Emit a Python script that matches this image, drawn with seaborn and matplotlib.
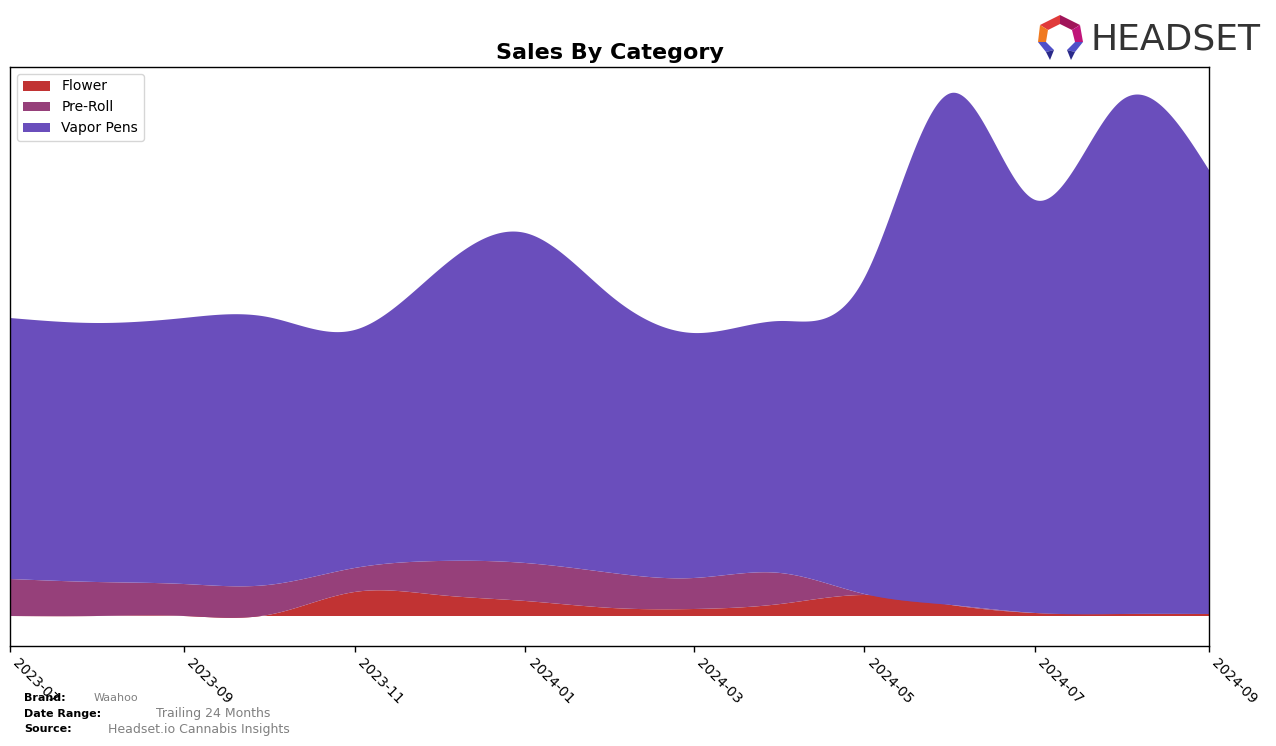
import numpy as np
import pandas as pd
import matplotlib
matplotlib.use("Agg")
import matplotlib.pyplot as plt
import matplotlib.dates as mdates
from matplotlib.patches import Polygon
import seaborn as sns

# ---- data (monthly, arbitrary units) ----
months = ["2023-07", "2023-08", "2023-09", "2023-10", "2023-11", "2023-12",
          "2024-01", "2024-02", "2024-03", "2024-04", "2024-05", "2024-06",
          "2024-07", "2024-08", "2024-09"]
categories = ["Flower", "Pre-Roll", "Vapor Pens"]
flower = [0, 0, 0, 1, 24, 21, 15, 8, 7, 12, 21, 11, 3, 2, 2]
pre_roll = [37, 34, 32, 30, 24, 34, 38, 35, 31, 31, 1, 0, 0, 0, 0]
vapor_pens = [261, 259, 266, 268, 238, 291, 330, 276, 245, 252, 316, 512, 413, 514, 444]
tick_labels = ["2023-07", "2023-09", "2023-11", "2024-01", "2024-03",
               "2024-05", "2024-07", "2024-09"]
colors = ["#C13333", "#96407A", "#6A4EBC"]


def natural_spline(x, y, xs):
    x = np.asarray(x, float); y = np.asarray(y, float)
    n = len(x); h = np.diff(x)
    A = np.zeros((n, n)); b = np.zeros(n)
    A[0, 0] = 1; A[-1, -1] = 1
    for i in range(1, n - 1):
        A[i, i - 1] = h[i - 1]
        A[i, i] = 2 * (h[i - 1] + h[i])
        A[i, i + 1] = h[i]
        b[i] = 3 * ((y[i + 1] - y[i]) / h[i] - (y[i] - y[i - 1]) / h[i - 1])
    c = np.linalg.solve(A, b)
    bc = (y[1:] - y[:-1]) / h - h * (2 * c[:-1] + c[1:]) / 3
    d = (c[1:] - c[:-1]) / (3 * h)
    idx = np.clip(np.searchsorted(x, xs, side="right") - 1, 0, n - 2)
    dx = xs - x[idx]
    return y[idx] + bc[idx] * dx + c[idx] * dx ** 2 + d[idx] * dx ** 3


sns.set_style("ticks")
plt.rcParams['font.family'] = ['DejaVu Sans']
plt.rcParams['text.color'] = 'black'
plt.rcParams['xtick.color'] = 'black'
plt.rcParams['axes.labelcolor'] = 'black'

fig = plt.figure(figsize=(12.76, 7.46), dpi=100)
ax = fig.add_axes([10 / 1276, 1 - 646 / 746, (1209 - 10) / 1276, (646 - 67) / 746])

xd = mdates.date2num(pd.to_datetime(months))
xs = np.linspace(xd[0], xd[-1], 800)
series = [flower, pre_roll, vapor_pens]
smooth = [natural_spline(xd, s, xs) for s in series]
ax.stackplot(mdates.num2date(xs), *smooth, colors=colors, labels=categories,
             linewidth=0.5, edgecolor="none")

ax.set_xlim(mdates.num2date(xd[0]), mdates.num2date(xd[-1]))
ax.set_ylim(-30, 549)
ax.set_yticks([])
tick_pos = mdates.date2num(pd.to_datetime(tick_labels))
ax.set_xticks(tick_pos)
ax.set_xticklabels(tick_labels, rotation=-45, ha="left", fontsize=10, color="black")
ax.tick_params(axis="x", length=4, width=1, pad=3, colors="black")
for s in ax.spines.values():
    s.set_visible(True)
    s.set_color("black")
    s.set_linewidth(1)
ax.set_title("Sales By Category", fontsize=16, fontweight="bold", pad=6, color="black")

leg = ax.legend(loc="upper left", fontsize=10, frameon=True, fancybox=True,
                borderaxespad=0.5)
leg.get_frame().set_edgecolor("#cccccc")

# footer
W, H = 1276, 746
def ft(x, y, s, **kw):
    return fig.text(x / W, 1 - y / H, s, va="center", **kw)
ft(24, 698, "Brand:", fontsize=8, fontweight="bold")
ft(94, 698, "Waahoo", fontsize=8, color="#808080")
ft(24, 714, "Date Range:", fontsize=8, fontweight="bold")
ft(156, 714, "Trailing 24 Months", fontsize=9, color="#808080")
ft(24, 729, "Source:", fontsize=8, fontweight="bold")
ft(108, 729, "Headset.io Cannabis Insights", fontsize=9, color="#808080")

# logo
ft(1091, 39, "HEADSET", fontsize=26, color="#333333", family='DejaVu Sans')
def poly(pts, color):
    p = Polygon([(x / W, 1 - y / H) for x, y in pts], closed=True,
                transform=fig.transFigure, facecolor=color, edgecolor="none")
    fig.patches.append(p)
poly([(1040, 25), (1060, 15), (1060, 24), (1048, 30)], "#E03A3A")
poly([(1060, 15), (1080, 25), (1072, 30), (1060, 24)], "#A0155A")
poly([(1040, 25), (1048, 30), (1046, 42), (1038, 42)], "#F07A20")
poly([(1080, 25), (1083, 42), (1075, 42), (1072, 30)], "#C0157A")
poly([(1038, 42), (1046, 42), (1054, 50), (1046, 52)], "#5050C8")
poly([(1046, 52), (1054, 50), (1050, 60)], "#2A2A8A")
poly([(1083, 42), (1075, 42), (1067, 50), (1075, 52)], "#5050C8")
poly([(1075, 52), (1067, 50), (1071, 60)], "#2A2A8A")

fig.savefig("out.png", dpi=100)
